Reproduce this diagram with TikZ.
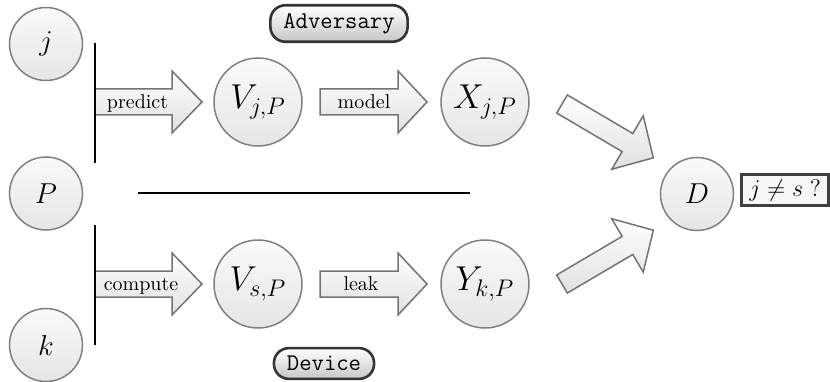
\documentclass[tikz,border=0pt]{standalone}
\usetikzlibrary{calc}

% fat block arrow: #1 tail point, #2 angle, #3 length,
% #4 shaft half width, #5 head half width, #6 head length
\newcommand\fatarrow[6]{%
  \begin{scope}[shift={#1}, rotate=#2]
    \draw[fat] (0,-#4) -- ({#3-#6},-#4) -- ({#3-#6},-#5) -- (#3,0)
      -- ({#3-#6},#5) -- ({#3-#6},#4) -- (0,#4) -- cycle;
  \end{scope}}

\begin{document}
\begin{tikzpicture}[x=0.5pt,y=0.5pt,
  var/.style={circle, draw=black!50, line width=0.75pt,
    top color=black!2, bottom color=black!10,
    minimum size=36.5pt, inner sep=0pt, font=\fontsize{13.5}{16}\selectfont},
  bigvar/.style={var, minimum size=44pt, font=\fontsize{17.5}{21}\selectfont},
  fat/.style={draw=black!55, line width=0.75pt, top color=white,
    bottom color=black!12, line join=miter},
  lbl/.style={anchor=base, inner sep=0pt},
  party/.style={draw=black!80, line width=1.3pt, rounded corners=7.5pt,
    top color=white, bottom color=black!22, font=\large\ttfamily,
    inner xsep=6.5pt, inner ysep=4pt},
  testbox/.style={draw=black!75, line width=1.4pt, fill=black!3,
    font=\fontsize{12.8}{15}\selectfont, inner sep=0pt,
    minimum width=43.5pt, minimum height=15.5pt},
  wall/.style={line width=1pt}
]
\useasboundingbox (0,0) rectangle (830,381);

% inputs
\node[var] (j) at (46,337) {$j$};
\node[var] (P) at (46,187.5) {$P$};
\node[var] (k) at (46,36) {$k$};

% intermediate values
\node[bigvar] (Vjp) at (258,279) {$V_{j,P}$};
\node[bigvar] (Xjp) at (485,279) {$X_{j,P}$};
\node[bigvar] (Vsp) at (258,97) {$V_{s,P}$};
\node[bigvar] (Ykp) at (485,97) {$Y_{k,P}$};

% distinguisher and its question
\node[var] (D) at (697,187) {$D$};
\node[testbox, anchor=west] (test) at ($(D.east)+(6,4)$) {$j \neq s\;?$};

% the two parties
\node[party] (adv) at (339,357.5) {Adversary};
\node[party] (dev) at (324,17.5) {Device};

% block arrows
\fatarrow{(95,279)}{0}{107}{13}{31}{30}
\fatarrow{(320,279)}{0}{107}{13}{31}{29}
\fatarrow{(95,97)}{0}{107}{13}{31}{30}
\fatarrow{(320,97)}{0}{107}{13}{31}{29}
\fatarrow{(562,277)}{-30.5}{106}{10.5}{31}{30}
\fatarrow{(562,97)}{30.5}{106}{10.5}{31}{30}

\node[lbl] (predict) at (137.5,272.5) {predict};
\node[lbl] (model) at (364,272.5) {model};
\node[lbl] (compute) at (141,90.5) {compute};
\node[lbl] (leak) at (361,90.5) {leak};

% brackets and separator
\coordinate (wt1) at (95,338);
\coordinate (wt2) at (95,218);
\coordinate (wb1) at (95,156);
\coordinate (wb2) at (95,36);
\draw[wall] (wt1) -- (wt2);
\draw[wall] (wb1) -- (wb2);
\coordinate (hl) at (138,188);
\coordinate (hr) at (470,188);
\draw[line width=0.8pt] (hl) -- (hr);
\end{tikzpicture}
\end{document}
